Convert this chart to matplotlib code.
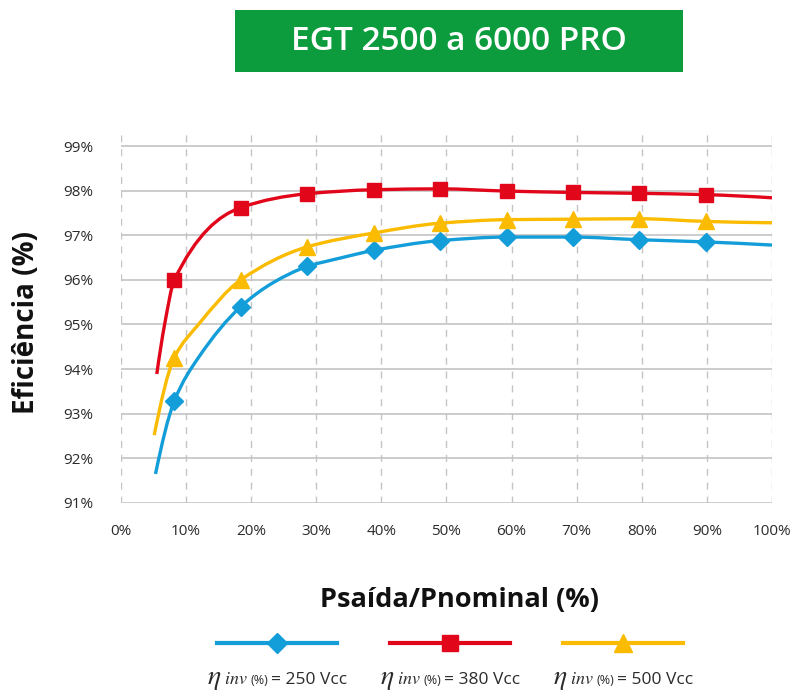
import numpy as np
import matplotlib
matplotlib.use("Agg")
import matplotlib.pyplot as plt
from matplotlib.path import Path
from matplotlib.patches import PathPatch, Rectangle
from matplotlib.lines import Line2D
from matplotlib.offsetbox import TextArea, HPacker, AnnotationBbox

plt.rcParams["font.family"] = ["Open Sans", "DejaVu Sans"]
plt.rcParams["mathtext.fontset"] = "stix"

# ---- data ------------------------------------------------------------------
# marker positions, % of nominal power
LOAD = [8.2, 18.4, 28.6, 38.8, 49.0, 59.3, 69.4, 79.6, 89.9]

EFF_250 = [93.29, 95.40, 96.30, 96.66, 96.88, 96.96, 96.96, 96.90, 96.85]
EFF_380 = [96.00, 97.62, 97.93, 98.02, 98.04, 97.99, 97.96, 97.94, 97.91]
EFF_500 = [94.26, 96.00, 96.74, 97.05, 97.27, 97.35, 97.36, 97.37, 97.31]

# extra points along each curve that carry no marker
CURVE_X_250 = [5.3, 12.0, 23.4, 33.7, 100.0]
CURVE_Y_250 = [91.65, 94.28, 95.94, 96.49, 96.78]
CURVE_X_380 = [5.5, 6.7, 100.0]
CURVE_Y_380 = [93.89, 95.00, 97.84]
CURVE_X_500 = [5.1, 11.9, 100.0]
CURVE_Y_500 = [92.52, 95.00, 97.28]

X_TICKS = list(range(0, 101, 10))
Y_TICKS = list(range(91, 100))

TITLE = "EGT 2500 a 6000 PRO"
XLABEL = "Psaída/Pnominal (%)"
YLABEL = "Eficiência (%)"
LABELS = ["= 250 Vcc", "= 380 Vcc", "= 500 Vcc"]

BLUE, RED, YELLOW = "#139dd9", "#e2061a", "#fbbb00"
GREEN = "#0c9c3e"
INK, GRID = "#2b2b2b", "#c4c4c4"

SERIES = [
    (CURVE_X_250, CURVE_Y_250, EFF_250, BLUE, "D", 9.0),
    (CURVE_X_380, CURVE_Y_380, EFF_380, RED, "s", 9.5),
    (CURVE_X_500, CURVE_Y_500, EFF_500, YELLOW, "^", 11.0),
]


def smooth_path(x, y):
    """Monotone cubic (Fritsch-Carlson) through the points, as Bezier segments."""
    x = np.asarray(x, float)
    y = np.asarray(y, float)
    h = np.diff(x)
    d = np.diff(y) / h
    m = np.zeros_like(x)
    m[0] = ((2 * h[0] + h[1]) * d[0] - h[0] * d[1]) / (h[0] + h[1])
    m[-1] = ((2 * h[-1] + h[-2]) * d[-1] - h[-1] * d[-2]) / (h[-1] + h[-2])
    for i in range(1, len(x) - 1):
        if d[i - 1] * d[i] <= 0:
            m[i] = 0.0
        else:
            w1 = 2 * h[i] + h[i - 1]
            w2 = h[i] + 2 * h[i - 1]
            m[i] = (w1 + w2) / (w1 / d[i - 1] + w2 / d[i])
    verts = [(x[0], y[0])]
    codes = [Path.MOVETO]
    for i in range(len(x) - 1):
        verts += [(x[i] + h[i] / 3, y[i] + m[i] * h[i] / 3),
                  (x[i + 1] - h[i] / 3, y[i + 1] - m[i + 1] * h[i] / 3),
                  (x[i + 1], y[i + 1])]
        codes += [Path.CURVE4] * 3
    return Path(verts, codes)


fig = plt.figure(figsize=(8.05, 6.95), dpi=100)
ax = fig.add_axes([0.1503, 0.2763, 0.8087, 0.5367])
ax.set_xlim(0, 100)
ax.set_ylim(91, 99.36)

for yv in Y_TICKS:
    ax.axhline(yv, color=GRID, lw=1.2, zorder=1)
for xv in X_TICKS:
    ax.axvline(xv, color=GRID, lw=1.0, ls=(0, (5, 5)), zorder=1)

for cx, cy, eff, col, mk, ms in SERIES:
    order = np.argsort(list(cx) + LOAD)
    xs = np.array(list(cx) + LOAD)[order]
    ys = np.array(list(cy) + eff)[order]
    ax.add_patch(PathPatch(smooth_path(xs, ys), fc="none", ec=col, lw=2.4,
                           capstyle="butt", zorder=3))
    ax.plot(LOAD, eff, ls="none", marker=mk, ms=ms, color=col, mec=col, zorder=4)

ax.set_xticks(X_TICKS)
ax.set_xticklabels([f"{v}%" for v in X_TICKS])
ax.set_yticks(Y_TICKS)
ax.set_yticklabels([f"{v}%" for v in Y_TICKS])
ax.tick_params(length=0, labelsize=11, colors=INK)
ax.tick_params(axis="y", pad=20)
ax.tick_params(axis="x", pad=15)
for s in ax.spines.values():
    s.set_visible(False)

fig.text(27 / 805, 1 - 322 / 695, YLABEL, rotation=90, ha="center", va="center",
         fontsize=20, fontweight="bold", color="#111111")
fig.text(459 / 805, 1 - 600 / 695, XLABEL, ha="center", va="center",
         fontsize=19.5, fontweight="bold", color="#111111")

# title banner
fig.add_artist(Rectangle((235 / 805, 1 - 72 / 695), 448 / 805, 62 / 695,
                         transform=fig.transFigure, color=GREEN, lw=0))
fig.text(459 / 805, 1 - 42 / 695, TITLE, ha="center", va="center",
         fontsize=24, color="white", fontweight="semibold")

# legend: sample line above, label below
for i, (cx, cy, eff, col, mk, ms) in enumerate(SERIES):
    xc = (277 + 173 * i) / 805
    yl = 1 - 643 / 695
    fig.add_artist(Line2D([xc - 60 / 805, xc + 60 / 805], [yl, yl], color=col, lw=3,
                          transform=fig.transFigure))
    fig.add_artist(Line2D([xc], [yl], marker=mk, ms=ms + 1.5, color=col, mec=col,
                          transform=fig.transFigure))
    parts = [TextArea(r"$\eta$", textprops=dict(fontsize=20, color=INK)),
             TextArea(r"$inv$", textprops=dict(fontsize=13, color=INK)),
             TextArea("(%)", textprops=dict(fontsize=9, color=INK)),
             TextArea(LABELS[i], textprops=dict(fontsize=12.5, color=INK))]
    box = HPacker(children=parts, align="baseline", pad=0, sep=2)
    fig.add_artist(AnnotationBbox(box, (xc, 1 - 678 / 695), xycoords="figure fraction",
                                  frameon=False, box_alignment=(0.5, 0.5)))

fig.savefig("out.png", dpi=100)
